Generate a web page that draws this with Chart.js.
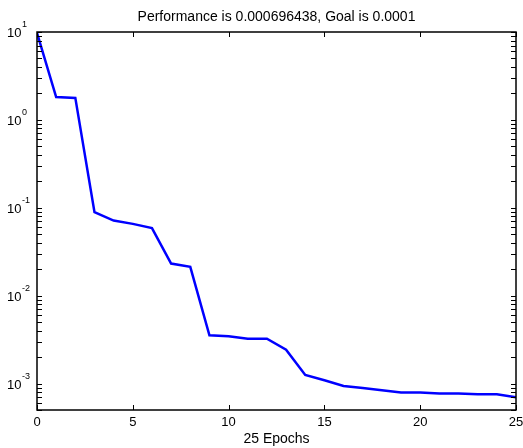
<!DOCTYPE html>
<html>
<head>
<meta charset="utf-8">
<script src="https://cdn.jsdelivr.net/npm/chart.js@4/dist/chart.umd.min.js"></script>
<style>
  body { margin: 0; background: #fff; }
  canvas { display: block; }
</style>
</head>
<body>
<canvas id="perfChart" width="523" height="448"></canvas>
<script>
// training record
const epochs = [0, 1, 2, 3, 4, 5, 6, 7, 8, 9, 10, 11, 12, 13, 14, 15, 16, 17, 18, 19, 20, 21, 22, 23, 24, 25];
const performance = [9.8, 1.82, 1.78, 0.089, 0.0716, 0.0656, 0.0587, 0.0232, 0.0213, 0.00354,
    0.00345, 0.00324, 0.00324, 0.00243, 0.00125, 0.00109, 0.00094, 0.00089, 0.00084, 0.00079,
    0.00079, 0.00077, 0.00077, 0.000753, 0.000753, 0.000696438];
const xTicks = [0, 5, 10, 15, 20, 25];
const yDecades = [-3, -2, -1, 0, 1];
const titleText = 'Performance is 0.000696438, Goal is 0.0001';
const xLabel = '25 Epochs';

const FONT = '"Liberation Sans", Arial, sans-serif';

// matlab style box, inward ticks and 10^n labels
const matlabAxes = {
    id: 'matlabAxes',
    afterDraw(chart) {
        const ctx = chart.ctx;
        const area = chart.chartArea;
        const xs = chart.scales.x;
        const ys = chart.scales.y;
        const tick = 5;

        ctx.save();
        ctx.strokeStyle = '#000';
        ctx.lineWidth = 1.5;
        ctx.strokeRect(area.left, area.top, area.right - area.left, area.bottom - area.top);

        ctx.lineWidth = 1;
        ctx.beginPath();
        xTicks.forEach((v) => {
            const px = Math.round(xs.getPixelForValue(v)) + 0.5;
            ctx.moveTo(px, area.bottom);
            ctx.lineTo(px, area.bottom - tick);
            ctx.moveTo(px, area.top);
            ctx.lineTo(px, area.top + tick);
        });
        const yMin = ys.min, yMax = ys.max;
        for (let d = -4; d <= 1; d++) {
            for (let k = 1; k <= 9; k++) {
                const v = k * Math.pow(10, d);
                if (v < yMin || v > yMax) continue;
                const py = Math.round(ys.getPixelForValue(v)) + 0.5;
                ctx.moveTo(area.left, py);
                ctx.lineTo(area.left + tick, py);
                ctx.moveTo(area.right, py);
                ctx.lineTo(area.right - tick, py);
            }
        }
        ctx.stroke();

        ctx.fillStyle = '#000';
        ctx.textBaseline = 'alphabetic';

        // x tick labels
        ctx.font = '13px ' + FONT;
        ctx.textAlign = 'center';
        xTicks.forEach((v) => {
            ctx.fillText(String(v), xs.getPixelForValue(v), 426);
        });

        // y tick labels 10^n
        yDecades.forEach((d) => {
            const py = ys.getPixelForValue(Math.pow(10, d));
            ctx.font = '13px ' + FONT;
            ctx.textAlign = 'left';
            ctx.fillText('10', 7, py + 5);
            const w = ctx.measureText('10').width;
            ctx.font = '9px ' + FONT;
            ctx.fillText(String(d), 7 + w + 0.5, py - 5);
        });

        // title and x label
        const cx = (area.left + area.right) / 2;
        ctx.font = '14px ' + FONT;
        ctx.textAlign = 'center';
        ctx.fillText(titleText, cx, 21);
        ctx.fillText(xLabel, cx, 443);
        ctx.restore();
    },
};

new Chart(document.getElementById('perfChart'), {
    type: 'line',
    data: {
        datasets: [
            {
                label: 'Train',
                data: epochs.map((e, i) => ({ x: e, y: performance[i] })),
                borderColor: '#0000ff',
                borderWidth: 2.5,
                pointRadius: 0,
                tension: 0,
                fill: false,
            },
        ],
    },
    options: {
        responsive: false,
        animation: false,
        devicePixelRatio: 1,
        layout: { padding: { top: 32, right: 7, left: 0, bottom: 0 } },
        plugins: {
            legend: { display: false },
            title: { display: false },
            tooltip: { enabled: false },
        },
        scales: {
            x: {
                type: 'linear',
                min: 0,
                max: 25,
                grid: { display: false, drawTicks: false },
                border: { display: false },
                ticks: { display: false },
                afterFit: (s) => { s.height = 38; },
            },
            y: {
                type: 'logarithmic',
                min: 0.0005,
                max: 10,
                grid: { display: false, drawTicks: false },
                border: { display: false },
                ticks: { display: false },
                afterFit: (s) => { s.width = 37; },
            },
        },
    },
    plugins: [matlabAxes],
});
</script>
</body>
</html>
